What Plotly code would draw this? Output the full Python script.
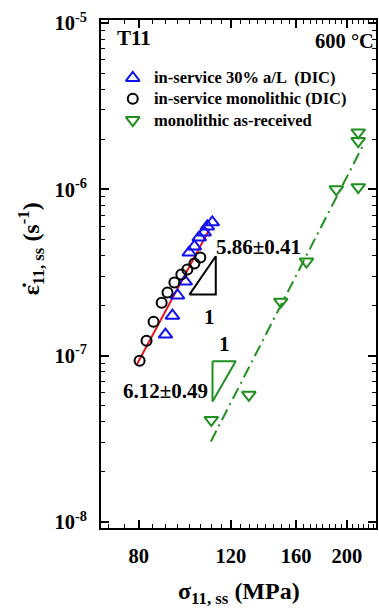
import numpy as np
import plotly.graph_objects as go

# ---------------- data ----------------
blue_x = [90.0, 92.8, 94.9, 98.2, 99.9, 102.2, 104.4, 106.7, 108.2, 110.6]
blue_y = [1.34e-7, 1.74e-7, 2.30e-7, 2.79e-7, 4.17e-7, 4.54e-7, 5.14e-7, 5.51e-7, 5.98e-7, 6.33e-7]

black_x = [80.3, 82.8, 85.4, 88.5, 90.8, 93.6, 96.5, 99.1, 102.2, 104.9]
black_y = [9.33e-8, 1.23e-7, 1.60e-7, 2.08e-7, 2.40e-7, 2.75e-7, 3.08e-7, 3.30e-7, 3.58e-7, 3.89e-7]

green_x = [110.1, 129.9, 149.5, 167.4, 190.9, 210.2, 210.2, 210.2]
green_y = [4.11e-8, 5.82e-8, 2.11e-7, 3.68e-7, 1.00e-6, 1.03e-6, 1.95e-6, 2.20e-6]

# power-law fits (stress exponents)
red_fit = dict(n=5.86, x0=79.3, y0=8.83e-8, x1=109.2)
green_fit = dict(n=6.12, x0=109.9, y0=3.05e-8, x1=216.0)

# slope triangles (data coordinates of vertices)
black_tri_x = [100.0, 112.3, 112.3, 100.0]
black_tri_y = [2.33e-7, 3.96e-7, 2.33e-7, 2.33e-7]
green_tri_x = [110.7, 122.6, 110.7, 110.7]
green_tri_y = [9.25e-8, 9.25e-8, 5.31e-8, 9.25e-8]

labels = ["in-service 30% a/L  (DIC)", "in-service monolithic (DIC)", "monolithic as-received"]
slope_texts = ["5.86\u00b10.41", "6.12\u00b10.49"]

x_major = [80, 120, 160, 200]
y_major = [1e-8, 1e-7, 1e-6, 1e-5]
y_major_text = ["10<sup>-8</sup>", "10<sup>-7</sup>", "10<sup>-6</sup>", "10<sup>-5</sup>"]

# legend layout (fractions of the plot area)
leg_marker_x = 0.1155
leg_text_x = 0.185
leg_y = [0.886, 0.845, 0.803]

# ---------------- styling ----------------
SERIF = "Liberation Serif"
BLUE = "#1010f0"
GREEN = "#1f8f1f"
RED = "#e8141c"

def fit_line(f):
    xs = np.array([f["x0"], f["x1"]])
    ys = f["y0"] * (xs / f["x0"]) ** f["n"]
    return xs, ys

fig = go.Figure()

rx, ry = fit_line(red_fit)
fig.add_trace(go.Scatter(x=rx, y=ry, mode="lines", line=dict(color=RED, width=2),
                         showlegend=False, hoverinfo="skip"))
gx, gy = fit_line(green_fit)
fig.add_trace(go.Scatter(x=gx, y=gy, mode="lines",
                         line=dict(color=GREEN, width=2, dash="12px,5px,2px,5px"),
                         showlegend=False, hoverinfo="skip"))

styles = [
    dict(symbol="triangle-up-open", size=12, color=BLUE, line=dict(width=2, color=BLUE)),
    dict(symbol="circle-open", size=10, color="black", line=dict(width=2, color="black")),
    dict(symbol="triangle-down-open", size=12, color=GREEN, line=dict(width=2, color=GREEN)),
]
for (xs, ys), st, lab in zip([(blue_x, blue_y), (black_x, black_y), (green_x, green_y)], styles, labels):
    fig.add_trace(go.Scatter(x=xs, y=ys, mode="markers", name=lab, marker=st, showlegend=False))

fig.add_trace(go.Scatter(x=black_tri_x, y=black_tri_y, mode="lines",
                         line=dict(color="black", width=2), showlegend=False, hoverinfo="skip"))
fig.add_trace(go.Scatter(x=green_tri_x, y=green_tri_y, mode="lines",
                         line=dict(color=GREEN, width=2), showlegend=False, hoverinfo="skip"))

# manual legend markers on an overlay axis spanning the plot area
for st, ly, lab in zip(styles, leg_y, labels):
    fig.add_trace(go.Scatter(x=[leg_marker_x], y=[ly], mode="markers", marker=st,
                             xaxis="x2", yaxis="y2", showlegend=False, hoverinfo="skip", name=lab))

bold = dict(family=SERIF, color="black", weight="bold")

ann = []
for ly, lab in zip(leg_y, labels):
    ann.append(dict(x=leg_text_x, y=ly, xref="paper", yref="paper", text=lab, showarrow=False,
                    xanchor="left", yanchor="middle", font=dict(size=16.5, **bold)))
# slope labels
ann.append(dict(x=np.log10(black_tri_x[1]), y=np.log10(black_tri_y[1]), xref="x", yref="y",
                text=slope_texts[0], showarrow=False, xanchor="left", yanchor="middle",
                xshift=-2, yshift=9, font=dict(size=21, **bold)))
ann.append(dict(x=np.log10(black_tri_x[0] * 1.09), y=np.log10(black_tri_y[0]), xref="x", yref="y",
                text="1", showarrow=False, xanchor="center", yanchor="top",
                yshift=-8, font=dict(size=21, **bold)))
ann.append(dict(x=np.log10((green_tri_x[0] * green_tri_x[1]) ** 0.5), y=np.log10(green_tri_y[0]),
                xref="x", yref="y", text="1", showarrow=False, xanchor="center",
                yanchor="bottom", yshift=3, font=dict(size=21, **bold)))
ann.append(dict(x=np.log10(green_tri_x[0]), y=np.log10(green_tri_y[2] * 1.25), xref="x", yref="y",
                text=slope_texts[1], showarrow=False, xanchor="right", yanchor="middle",
                xshift=-3, yshift=-6, font=dict(size=21, **bold)))
# corner texts
ann.append(dict(x=0.05, y=0.965, xref="paper", yref="paper", text="T11", showarrow=False,
                xanchor="left", yanchor="middle", font=dict(size=21, **bold)))
ann.append(dict(x=1.0, y=0.958, xref="paper", yref="paper", text="600 \u00b0C", showarrow=False,
                xanchor="right", yanchor="middle", font=dict(size=20.5, **bold)))
# axis titles
ann.append(dict(x=0.5, y=-0.128, xref="paper", yref="paper",
                text="\u03c3<sub>11, ss</sub> (MPa)", showarrow=False,
                xanchor="center", yanchor="middle", font=dict(size=24, **bold)))
ann.append(dict(x=-0.256, y=0.55, xref="paper", yref="paper",
                text="\u03b5\u0307<sub>11, ss</sub> (s<sup>-1</sup>)", showarrow=False,
                textangle=-90, xanchor="center", yanchor="middle", font=dict(size=24, **bold)))

x_minor = [v for v in range(65, 230, 5) if v not in x_major]
y_minor = [k * 10.0 ** d for d in range(-9, -4) for k in range(2, 10)]

axis_common = dict(showgrid=False, zeroline=False, showline=True, linecolor="black",
                   linewidth=2, mirror="allticks", ticks="inside", tickcolor="black",
                   tickwidth=1.5, ticklen=8, tickfont=dict(size=20.5, **bold))

xaxis = dict(type="log", range=[1.8310, 2.3566], tickmode="array", tickvals=x_major,
             ticktext=[str(v) for v in x_major], ticklabelstandoff=8,
             minor=dict(tickmode="array", tickvals=x_minor, ticks="inside", ticklen=4,
                        tickcolor="black", tickwidth=1.2, showgrid=False),
             **axis_common)
yaxis = dict(type="log", range=[-8.036, -4.982], tickmode="array", tickvals=y_major,
             ticktext=y_major_text, ticklabelstandoff=8,
             minor=dict(tickmode="array", tickvals=y_minor, ticks="inside", ticklen=4,
                        tickcolor="black", tickwidth=1.2, showgrid=False),
             **axis_common)

fig.update_layout(
    width=379, height=610,
    margin=dict(l=101, r=1, t=20, b=82),
    plot_bgcolor="white", paper_bgcolor="white",
    showlegend=False,
    xaxis=xaxis,
    yaxis=yaxis,
    xaxis2=dict(overlaying="x", range=[0, 1], visible=False, fixedrange=True, anchor="y2"),
    yaxis2=dict(overlaying="y", range=[0, 1], visible=False, fixedrange=True, anchor="x2"),
    annotations=ann,
)

fig.write_html("out.html")
